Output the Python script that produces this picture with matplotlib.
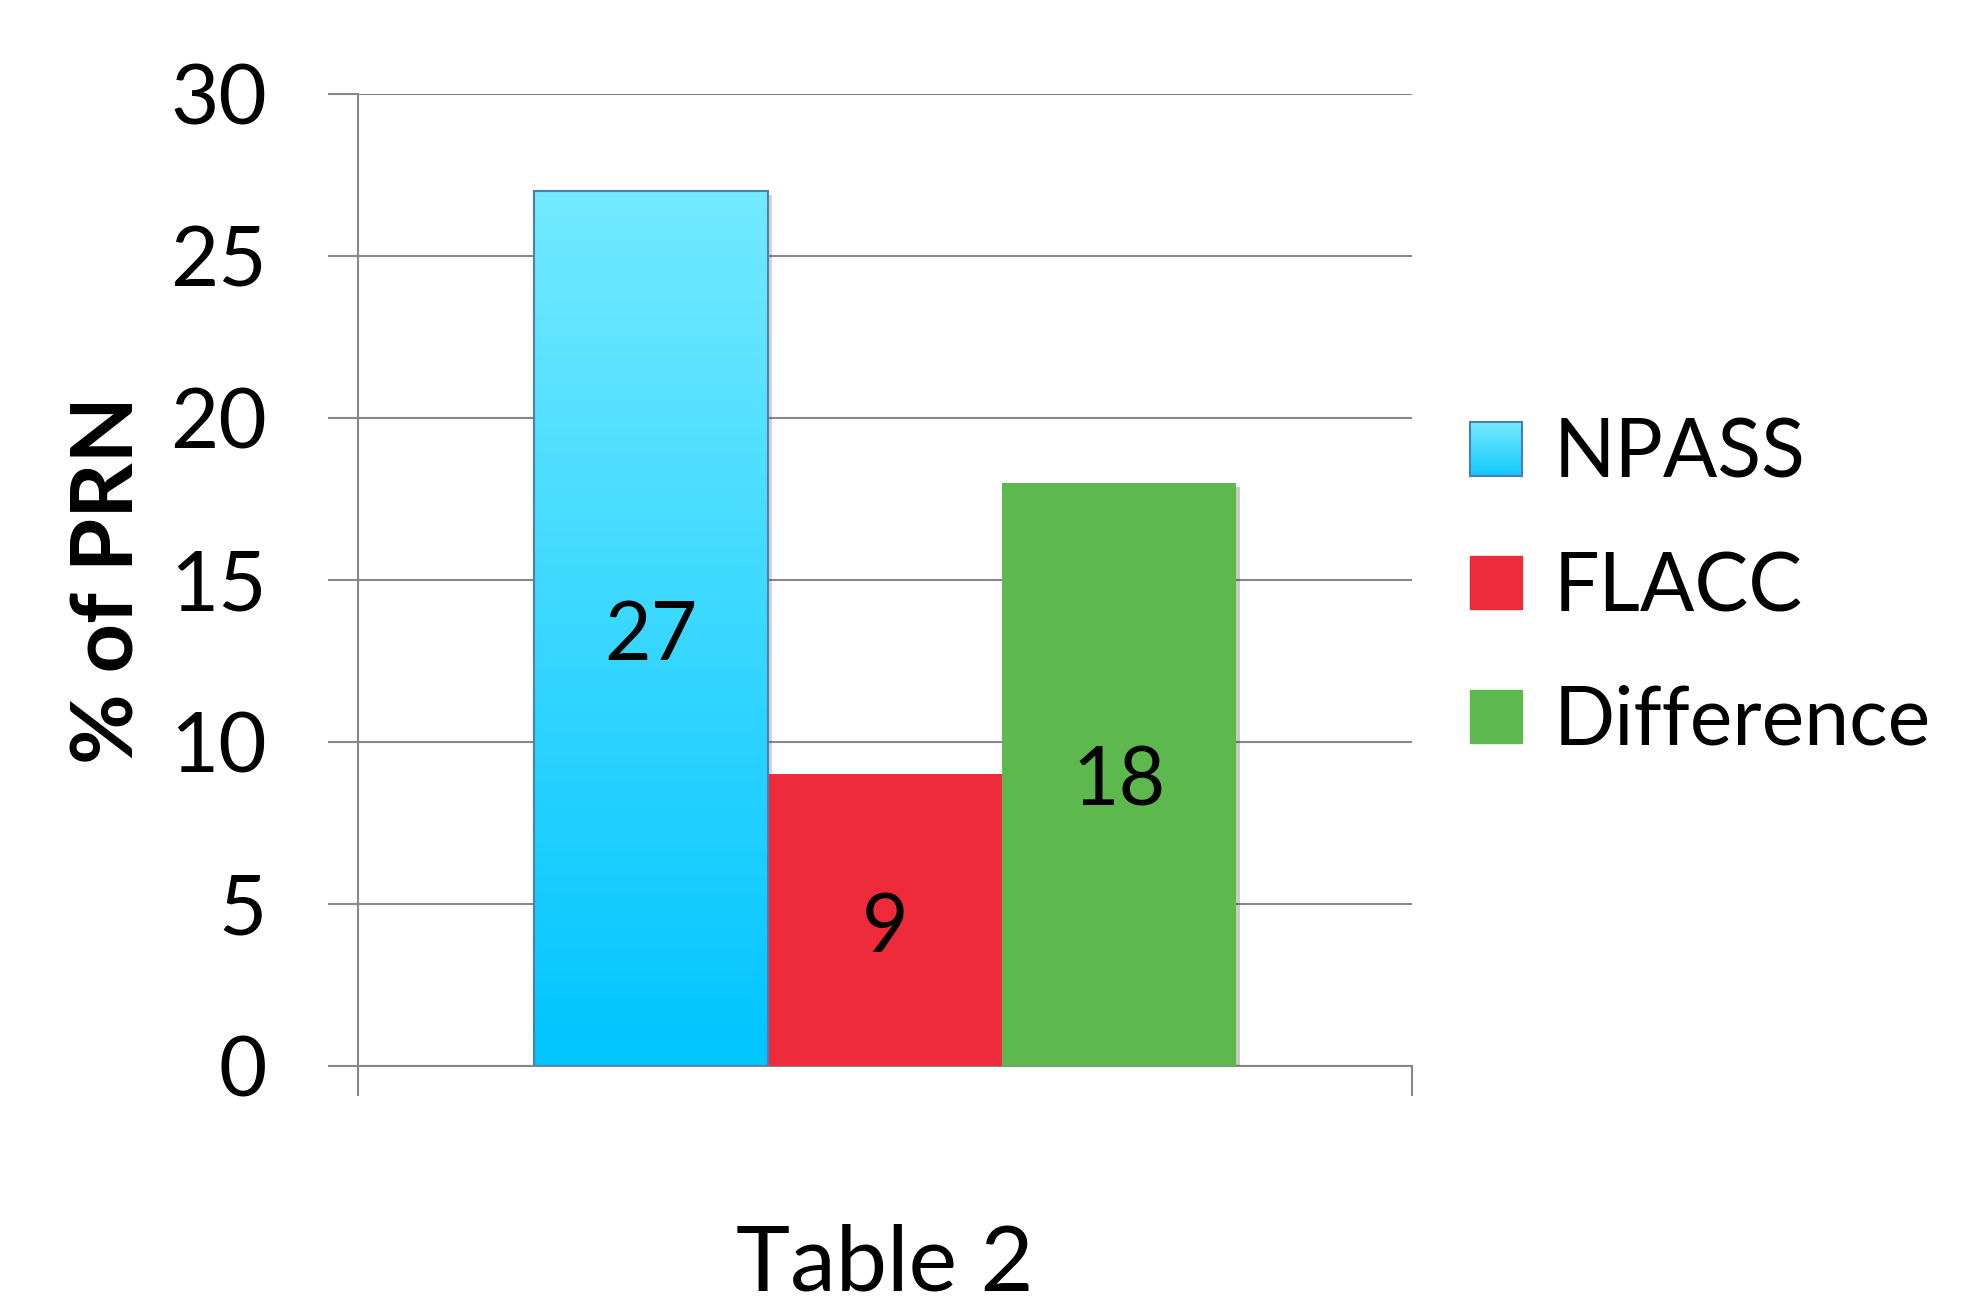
import numpy as np
import matplotlib
matplotlib.use('Agg')
import matplotlib.pyplot as plt
from matplotlib.patches import Rectangle
from matplotlib.legend_handler import HandlerBase
from matplotlib.colors import LinearSegmentedColormap, to_rgb
import matplotlib.patheffects as pe

plt.rcParams['font.family'] = ['Lato', 'DejaVu Sans']

# 数据
category = 'Table 2'
series = ['NPASS', 'FLACC', 'Difference']
values = [27, 9, 18]
colors = ['#3fd8ff', '#ee2b3b', '#5db94d']
yticks = [0, 5, 10, 15, 20, 25, 30]

grad_top = '#73eaff'
grad_bottom = '#00c5ff'
edge_blue = '#4a7ebb'
grid_gray = '#888888'


class GradientHandler(HandlerBase):
    # 图例里的渐变方块
    def create_artists(self, legend, orig_handle, xdescent, ydescent,
                       width, height, fontsize, trans):
        n = 24
        c1 = np.array(to_rgb(grad_top))
        c2 = np.array(to_rgb('#12c9ff'))
        arts = []
        for i in range(n):
            t = i / (n - 1)
            c = c2 * (1 - t) + c1 * t
            r = Rectangle((-xdescent, -ydescent + height * i / n), width, height / n + 0.5,
                          facecolor=c, edgecolor='none', transform=trans)
            arts.append(r)
        arts.append(Rectangle((-xdescent, -ydescent), width, height, facecolor='none',
                              edgecolor=edge_blue, lw=1.5, transform=trans))
        return arts


fig = plt.figure(figsize=(19.64, 13.13), dpi=100)
ax = fig.add_axes([358 / 1964, 247 / 1313, 1054 / 1964, 972 / 1313])

w = 0.222
xs = [-w, 0, w]
for x, v, c, s in zip(xs, values, colors, series):
    if s == 'NPASS':
        b = ax.bar(x, v, width=w, facecolor='none', edgecolor=edge_blue, lw=1.5, zorder=4)[0]
        cmap = LinearSegmentedColormap.from_list('g', [grad_bottom, grad_top])
        grad = np.linspace(0, 1, 256).reshape(-1, 1)
        im = ax.imshow(grad, cmap=cmap, origin='lower', aspect='auto',
                       extent=[x - w / 2, x + w / 2, 0, v], zorder=3)
        im.set_clip_path(b)
        shadow = ax.bar(x, v, width=w, facecolor='white', edgecolor='none', zorder=2.5)[0]
        shadow.set_path_effects([pe.SimplePatchShadow(offset=(3, -3), alpha=0.25)])
    else:
        b = ax.bar(x, v, width=w, color=c, edgecolor='none', zorder=3)[0]
        b.set_path_effects([pe.SimplePatchShadow(offset=(3, -3), alpha=0.25), pe.Normal()])
    ax.annotate(str(v), (x, v / 2), xytext=(0, -6), textcoords='offset points',
                ha='center', va='center', fontsize=58, zorder=6)

ax.set_xlim(-0.5, 0.5)
ax.set_ylim(0, 30)
ax.set_yticks(yticks)
ax.set_xticks([-0.5, 0.5])
ax.set_xticklabels(['', ''])
ax.set_axisbelow(True)
ax.yaxis.grid(True, color=grid_gray, lw=1.5)
ax.tick_params(axis='y', length=21.6, width=1.5, color=grid_gray, pad=44, labelsize=60)
ax.tick_params(axis='x', length=21.6, width=1.5, color=grid_gray)
for sp in ['top', 'right']:
    ax.spines[sp].set_visible(False)
ax.spines['left'].set_color(grid_gray)
ax.spines['left'].set_linewidth(1.5)
ax.spines['bottom'].set_color(grid_gray)
ax.spines['bottom'].set_linewidth(1.5)

ax.set_ylabel('% of PRN', fontsize=62, fontweight='bold')
ax.yaxis.label.set_va('center')
ax.yaxis.set_label_coords(-0.236, 0.5)
ax.set_xlabel(category, fontsize=66)
ax.xaxis.set_label_coords(0.5, -0.205)
ax.xaxis.label.set_va('center')

handles = [Rectangle((0, 0), 1, 1), Rectangle((0, 0), 1, 1, color=colors[1]),
           Rectangle((0, 0), 1, 1, color=colors[2])]
leg = fig.legend(handles, series, loc='center left', bbox_to_anchor=(1470 / 1964, 1 - 588 / 1313),
                 bbox_transform=fig.transFigure, frameon=False, fontsize=58,
                 handlelength=0.64, handleheight=0.64, handletextpad=0.40,
                 labelspacing=0.74, borderpad=0, borderaxespad=0,
                 handler_map={handles[0]: GradientHandler()})

plt.savefig('out.png', dpi=100)
